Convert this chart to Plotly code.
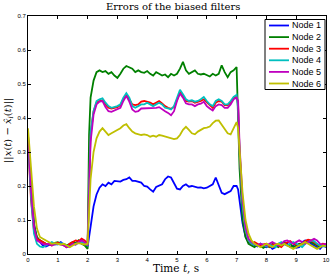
import numpy as np
import plotly.graph_objects as go

# time samples (s): 0..2.0 step 0.1, 2.05, 2.1..7.0, 7.05, 7.1..10.0
t_a = [round(0.1 * k, 2) for k in range(0, 21)]
t_b = [round(2.1 + 0.1 * k, 2) for k in range(0, 50)]
t_c = [round(7.1 + 0.1 * k, 2) for k in range(0, 30)]
time = t_a + [2.05] + t_b + [7.05] + t_c

node1 = [0.35, 0.21, 0.09, 0.045, 0.035, 0.025, 0.022, 0.025, 0.03, 0.028, 0.03, 0.035, 0.028, 0.02, 0.025, 0.03, 0.028, 0.035, 0.032, 0.03, 0.02,
         0.05,
         0.08, 0.14, 0.175, 0.195, 0.205, 0.2, 0.21, 0.205, 0.215,
         0.215, 0.213, 0.218, 0.22, 0.225, 0.215, 0.215, 0.212, 0.21, 0.2,
         0.198, 0.19, 0.183, 0.197, 0.2, 0.205, 0.22, 0.228, 0.225, 0.21,
         0.192, 0.19, 0.2, 0.205, 0.198, 0.2, 0.198, 0.195, 0.196, 0.193,
         0.195, 0.2, 0.205, 0.225, 0.205, 0.18, 0.176, 0.18, 0.185, 0.2,
         0.2,
         0.19,
         0.15, 0.09, 0.05, 0.035, 0.03, 0.025, 0.022, 0.03, 0.022,
         0.02, 0.025, 0.015, 0.02, 0.03, 0.025, 0.035, 0.03, 0.02, 0.025,
         0.018, 0.02, 0.035, 0.04, 0.038, 0.03, 0.025, 0.02, 0.015, 0.025,
         0.02]

node2 = [0.34, 0.2, 0.085, 0.05, 0.04, 0.035, 0.03, 0.03, 0.028, 0.033, 0.035, 0.03, 0.03, 0.025, 0.03, 0.035, 0.032, 0.04, 0.03, 0.025, 0.015,
         0.35,
         0.46, 0.51, 0.535, 0.54, 0.535, 0.538, 0.53, 0.535, 0.525,
         0.518, 0.53, 0.545, 0.553, 0.55, 0.545, 0.535, 0.54, 0.535, 0.533,
         0.538, 0.53, 0.525, 0.535, 0.53, 0.525, 0.528, 0.52, 0.53, 0.525,
         0.53, 0.545, 0.565, 0.54, 0.53, 0.535, 0.54, 0.53, 0.528, 0.53,
         0.525, 0.522, 0.53, 0.525, 0.53, 0.555, 0.535, 0.52, 0.535, 0.54,
         0.55,
         0.4,
         0.25, 0.1, 0.05, 0.03, 0.025, 0.02, 0.028, 0.022, 0.018,
         0.025, 0.02, 0.03, 0.025, 0.02, 0.028, 0.032, 0.025, 0.03, 0.02,
         0.025, 0.03, 0.028, 0.035, 0.04, 0.035, 0.03, 0.025, 0.02, 0.03,
         0.025]

node3 = [0.33, 0.16, 0.07, 0.045, 0.04, 0.035, 0.03, 0.028, 0.025, 0.03, 0.033, 0.03, 0.025, 0.02, 0.03, 0.035, 0.04, 0.038, 0.045, 0.04, 0.03,
         0.2,
         0.35, 0.42, 0.445, 0.45, 0.452, 0.44, 0.43, 0.428, 0.43,
         0.432, 0.438, 0.455, 0.466, 0.455, 0.44, 0.438, 0.44, 0.448, 0.45,
         0.448, 0.445, 0.44, 0.445, 0.45, 0.443, 0.435, 0.43, 0.427, 0.432,
         0.455, 0.475, 0.465, 0.45, 0.448, 0.45, 0.445, 0.447, 0.45, 0.455,
         0.445, 0.438, 0.43, 0.445, 0.45, 0.448, 0.438, 0.437, 0.445, 0.458,
         0.463,
         0.44,
         0.3, 0.15, 0.07, 0.04, 0.03, 0.035, 0.03, 0.025, 0.028,
         0.03, 0.022, 0.028, 0.03, 0.025, 0.02, 0.03, 0.035, 0.038, 0.03,
         0.028, 0.025, 0.03, 0.038, 0.042, 0.04, 0.035, 0.028, 0.025, 0.03,
         0.028]

node4 = [0.34, 0.17, 0.06, 0.03, 0.022, 0.02, 0.025, 0.03, 0.035, 0.03, 0.028, 0.032, 0.03, 0.025, 0.022, 0.028, 0.03, 0.033, 0.035, 0.03, 0.025,
         0.2,
         0.36, 0.42, 0.45, 0.455, 0.458, 0.445, 0.435, 0.43, 0.432,
         0.435, 0.44, 0.46, 0.473, 0.46, 0.435, 0.43, 0.435, 0.44, 0.44,
         0.445, 0.44, 0.435, 0.44, 0.445, 0.44, 0.43, 0.428, 0.425, 0.435,
         0.46, 0.483, 0.47, 0.455, 0.45, 0.452, 0.448, 0.45, 0.455, 0.462,
         0.45, 0.44, 0.435, 0.45, 0.455, 0.45, 0.44, 0.44, 0.45, 0.462,
         0.468,
         0.43,
         0.3, 0.14, 0.07, 0.04, 0.03, 0.028, 0.025, 0.03, 0.025,
         0.022, 0.028, 0.025, 0.02, 0.03, 0.035, 0.028, 0.025, 0.03, 0.035,
         0.03, 0.025, 0.02, 0.03, 0.035, 0.04, 0.038, 0.03, 0.025, 0.022,
         0.025]

node5 = [0.35, 0.19, 0.08, 0.04, 0.035, 0.03, 0.028, 0.03, 0.025, 0.03, 0.03, 0.028, 0.025, 0.02, 0.022, 0.03, 0.028, 0.035, 0.04, 0.035, 0.025,
         0.18,
         0.33, 0.41, 0.44, 0.448, 0.45, 0.432, 0.42, 0.418, 0.422,
         0.425, 0.43, 0.45, 0.465, 0.448, 0.425, 0.418, 0.42, 0.428, 0.428,
         0.43, 0.428, 0.428, 0.43, 0.432, 0.425, 0.42, 0.415, 0.408, 0.42,
         0.45, 0.472, 0.46, 0.443, 0.44, 0.44, 0.435, 0.44, 0.442, 0.448,
         0.435, 0.428, 0.422, 0.435, 0.44, 0.438, 0.43, 0.43, 0.44, 0.455,
         0.46,
         0.45,
         0.32, 0.16, 0.08, 0.045, 0.035, 0.03, 0.025, 0.03, 0.028,
         0.025, 0.03, 0.035, 0.03, 0.025, 0.03, 0.038, 0.04, 0.035, 0.03,
         0.035, 0.04, 0.035, 0.03, 0.035, 0.04, 0.045, 0.04, 0.03, 0.028,
         0.03]

node6 = [0.37, 0.26, 0.14, 0.075, 0.05, 0.045, 0.04, 0.035, 0.03, 0.032, 0.03, 0.028, 0.03, 0.025, 0.02, 0.025, 0.03, 0.032, 0.03, 0.028, 0.03,
         0.12,
         0.22, 0.3, 0.34, 0.36, 0.37, 0.36, 0.35, 0.355, 0.36,
         0.365, 0.37, 0.378, 0.382, 0.37, 0.36, 0.355, 0.352, 0.35, 0.352,
         0.35, 0.345, 0.348, 0.345, 0.35, 0.348, 0.345, 0.342, 0.34, 0.338,
         0.34, 0.35, 0.365, 0.374, 0.365, 0.355, 0.352, 0.36, 0.365, 0.37,
         0.372, 0.375, 0.385, 0.392, 0.393, 0.38, 0.365, 0.355, 0.352, 0.37,
         0.388,
         0.37,
         0.3, 0.18, 0.1, 0.06, 0.04, 0.03, 0.025, 0.02, 0.025,
         0.03, 0.025, 0.02, 0.028, 0.03, 0.025, 0.03, 0.025, 0.02, 0.015,
         0.02, 0.025, 0.03, 0.035, 0.03, 0.025, 0.02, 0.015, 0.02, 0.025,
         0.022]

names = ["Node 1", "Node 2", "Node 3", "Node 4", "Node 5", "Node 6"]
series = [node1, node2, node3, node4, node5, node6]
colors = ["#0000ff", "#008000", "#ff0000", "#00bfbf", "#bf00bf", "#bfbf00"]

x_ticks = list(range(0, 11))
y_ticks = [0, 0.1, 0.2, 0.3, 0.4, 0.5, 0.6, 0.7]
y_tick_text = ["0", "0.1", "0.2", "0.3", "0.4", "0.5", "0.6", "0.7"]

W, H = 333, 277
ML, MR, MT, MB = 28, 7, 16, 23
PW, PH = W - ML - MR, H - MT - MB


def px_x(p):
    return (p - ML) / PW


def px_y(p):
    return (H - MB - p) / PH


fig = go.Figure()
for nm, ys, c in zip(names, series, colors):
    fig.add_trace(go.Scatter(x=time, y=ys, mode="lines", name=nm,
                             line=dict(color=c, width=1.8), showlegend=False))

axis_common = dict(showgrid=False, zeroline=False, showline=True, linecolor="black",
                   linewidth=1, mirror="ticks", ticks="inside", ticklen=3,
                   tickcolor="black", automargin=False,
                   tickfont=dict(family="Arial", size=6, color="black"))

shapes = []
annotations = []

# legend box (drawn manually for compact MATLAB-like spacing)
shapes.append(dict(type="rect", xref="paper", yref="paper",
                   x0=px_x(265), x1=px_x(325), y0=px_y(89.5), y1=px_y(19.5),
                   line=dict(color="black", width=1), fillcolor="white", layer="above"))
for i, (nm, c) in enumerate(zip(names, colors)):
    yy = px_y(25.5 + i * 11.6)
    shapes.append(dict(type="line", xref="paper", yref="paper",
                       x0=px_x(269), x1=px_x(289), y0=yy, y1=yy,
                       line=dict(color=c, width=1.8), layer="above"))
    annotations.append(dict(text=nm, xref="paper", yref="paper", x=px_x(290), y=yy,
                            xanchor="left", yanchor="middle", showarrow=False,
                            font=dict(family="Arial", size=9, color="black")))

# titles
annotations.append(dict(text="Errors of the biased filters", xref="paper", yref="paper",
                        x=px_x(173), y=px_y(7), xanchor="center", yanchor="middle",
                        showarrow=False,
                        font=dict(family="DejaVu Serif", size=10, color="black")))
annotations.append(dict(text="Time <i>t</i>, s", xref="paper", yref="paper",
                        x=px_x(176), y=px_y(268), xanchor="center", yanchor="middle",
                        showarrow=False,
                        font=dict(family="DejaVu Serif", size=10.5, color="black")))
annotations.append(dict(text="||<i>x</i>(<i>t</i>) − <i>x̂</i><sub><i>i</i></sub>(<i>t</i>)||",
                        xref="paper", yref="paper", x=px_x(8), y=px_y(131),
                        xanchor="center", yanchor="middle", textangle=-90,
                        showarrow=False,
                        font=dict(family="DejaVu Serif", size=10, color="black")))

fig.update_layout(
    width=W, height=H,
    margin=dict(l=ML, r=MR, t=MT, b=MB),
    paper_bgcolor="white", plot_bgcolor="white",
    xaxis=dict(range=[0, 10], tickvals=x_ticks, ticktext=[str(v) for v in x_ticks],
               **axis_common),
    yaxis=dict(range=[0, 0.7], tickvals=y_ticks, ticktext=y_tick_text,
               **axis_common),
    shapes=shapes,
    annotations=annotations,
    showlegend=False,
)

fig.write_html("out.html", config={"displayModeBar": False},
               post_script="document.body.style.margin='0';document.body.style.overflow='hidden';")
